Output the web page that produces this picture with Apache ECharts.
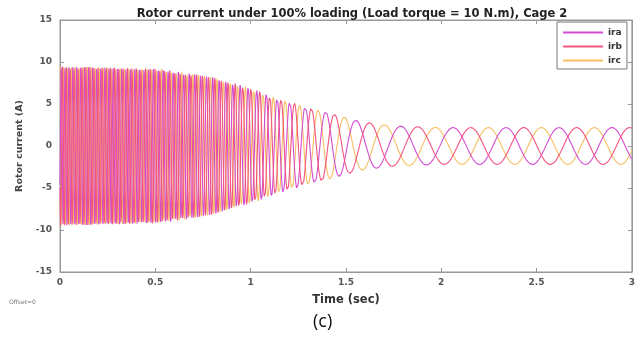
<!DOCTYPE html>
<html><head><meta charset="utf-8">
<script src="https://cdn.jsdelivr.net/npm/echarts@6/dist/echarts.min.js"></script>
<style>html,body{margin:0;padding:0;background:#fff}#c{width:638px;height:347px}</style>
</head><body><div id="c"></div>
<script>
// values
const titleText = 'Rotor current under 100% loading (Load torque = 10 N.m), Cage 2';
const seriesNames = ['ira', 'irb', 'irc'];
const seriesColors = ['#d24cd2', '#f2557e', '#f7bf62'];
const yTicks = [-15, -10, -5, 0, 5, 10, 15];
const xTicks = [0, 0.5, 1, 1.5, 2, 2.5, 3];
// envelope of the currents (time s, amplitude A)
const envTime = [0, 0.5, 0.8, 1.0, 1.1, 1.2, 1.3, 1.42, 1.58, 1.75, 2.0, 3.0];
const envAmp  = [9.5, 9.3, 8.2, 6.9, 6.0, 5.3, 4.6, 3.9, 2.9, 2.4, 2.2, 2.2];
// rotor (slip) frequency read from the oscillation spacing (time s, Hz)
const frqTime = [0, 0.3, 0.6, 0.9, 1.1, 1.25, 1.4, 1.55, 1.7, 1.9, 3.0];
const frqHz   = [50, 45, 37, 27, 18, 12, 7.5, 5, 4, 3.6, 3.6];
const iraPeakTime = 2.34; // a visible positive peak of ira

function lerp(xs, ys, x) {
  if (x <= xs[0]) return ys[0];
  for (let i = 1; i < xs.length; i++) {
    if (x <= xs[i]) { const f = (x - xs[i-1]) / (xs[i] - xs[i-1]); return ys[i-1] + f * (ys[i] - ys[i-1]); }
  }
  return ys[ys.length - 1];
}
const dt = 0.0005;
const times = [], phases = [];
let ph = 0;
for (let k = 0; k <= 6000; k++) {
  const t = k * dt;
  times.push(t); phases.push(ph);
  ph += 2 * Math.PI * lerp(frqTime, frqHz, t) * dt;
}
const kPeak = Math.round(iraPeakTime / dt);
const off = Math.PI / 2 - phases[kPeak];
const shifts = [0, -2 * Math.PI / 3, 2 * Math.PI / 3];
const seriesData = shifts.map(s => times.map((t, k) => [t, +(lerp(envTime, envAmp, t) * Math.sin(phases[k] + off + s)).toFixed(3)]));
const zOrder = [3, 4, 2];

const chart = echarts.init(document.getElementById('c'), null, {renderer: 'canvas'});
const FF = 'DejaVu Sans';
const lblStyle = {color: '#555', fontSize: 9, fontWeight: 'bold', fontFamily: FF};
const axLine = {show: true, onZero: false, lineStyle: {color: '#999'}};
const axTick = {show: true, inside: true, length: 4, lineStyle: {color: '#999'}};
chart.setOption({
  animation: false,
  backgroundColor: '#fff',
  title: {text: titleText, left: 347, top: 3, textAlign: 'center',
    textStyle: {fontSize: 11.5, fontWeight: 'bold', color: '#222', fontFamily: FF}},
  legend: {orient: 'vertical', left: 557, top: 22, itemWidth: 40, itemHeight: 2, itemGap: 5,
    icon: 'rect', padding: [6, 5, 4, 6], borderColor: '#777', borderWidth: 1, backgroundColor: '#fff',
    textStyle: {fontSize: 9, fontWeight: 'bold', color: '#333', fontFamily: FF},
    data: seriesNames},
  grid: {left: 60, right: 4, top: 20, bottom: 75, show: true, borderColor: '#999', borderWidth: 1},
  xAxis: [{type: 'value', min: 0, max: 3, interval: 0.5, position: 'bottom',
      name: 'Time (sec)', nameLocation: 'middle', nameGap: 22,
      nameTextStyle: {fontSize: 11.5, fontWeight: 'bold', color: '#333', fontFamily: FF},
      axisLine: axLine, axisTick: axTick,
      splitLine: {show: false}, axisLabel: Object.assign({margin: 6, formatter: v => xTicks.includes(v) ? String(v) : ''}, lblStyle)},
    {type: 'value', min: 0, max: 3, interval: 0.5, position: 'top',
      axisLine: axLine, axisTick: axTick, splitLine: {show: false}, axisLabel: {show: false}}],
  yAxis: [{type: 'value', min: -15, max: 15, interval: 5, position: 'left',
      name: 'Rotor current (A)', nameLocation: 'middle', nameGap: 33,
      nameTextStyle: {fontSize: 9.5, fontWeight: 'bold', color: '#444', fontFamily: FF},
      axisLine: axLine, axisTick: axTick,
      splitLine: {show: false}, axisLabel: Object.assign({margin: 8, formatter: v => yTicks.includes(v) ? String(v) : ''}, lblStyle)},
    {type: 'value', min: -15, max: 15, interval: 5, position: 'right',
      axisLine: axLine, axisTick: axTick, splitLine: {show: false}, axisLabel: {show: false}}],
  graphic: [
    {type: 'text', left: 9, top: 299, style: {text: 'Offset=0', fontSize: 6, fill: '#777', fontFamily: FF}},
    {type: 'text', left: 313, top: 313, style: {text: '(c)', fontSize: 18, fill: '#111', fontFamily: 'Open Sans'}}
  ],
  series: seriesNames.map((n, i) => ({
    name: n, type: 'line', data: seriesData[i], showSymbol: false, symbol: 'none',
    sampling: false, large: false, lineStyle: {width: 1.1, color: seriesColors[i]},
    itemStyle: {color: seriesColors[i]}, emphasis: {disabled: true}, z: zOrder[i]
  }))
});
</script></body></html>
